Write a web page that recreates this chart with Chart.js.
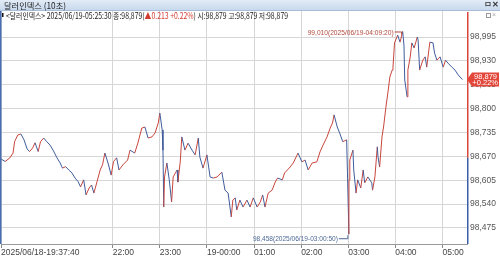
<!DOCTYPE html>
<html>
<head>
<meta charset="utf-8">
<script src="https://cdn.jsdelivr.net/npm/chart.js@4.4.1/dist/chart.umd.min.js"></script>
<style>
  html, body { margin: 0; padding: 0; background: #fff; }
  #wrap { width: 500px; height: 257px; }
</style>
</head>
<body>
<div id="wrap"><canvas id="c" width="500" height="257"></canvas></div>
<script>
// 달러인덱스 10초 - 시간(18일 19시 이후는 전일) / 가격
const times = [
  '19:37:40','19:43','19:49','19:53','19:55','19:59','20:03','20:07','20:11','20:14',
  '20:18','20:21','20:25','20:28','20:32','20:36','20:40','20:44','20:49','20:53',
  '20:56','21:00','21:04','21:08','21:12','21:16','21:19','21:23','21:26','21:30',
  '21:33','21:36','21:40','21:44','21:47','21:50','21:54','21:58','22:01','22:05',
  '22:08','22:13','22:19','22:22','22:28','22:32','22:37','22:41','22:45','22:50',
  '22:54','22:58','23:00','23:03','23:04','23:05','23:06','23:09','23:12','23:15',
  '23:17','23:22','23:23','23:26','23:28','23:32','23:36','23:41','23:45','23:49',
  '23:51','23:55','00:00','00:04','00:08','00:13','00:19','00:23','00:27','00:31',
  '00:33','00:36','00:38','00:42','00:46','00:51','00:55','00:59','01:04','01:08',
  '01:11','01:14','01:18','01:23','01:27','01:30','01:36','01:39','01:46','01:50',
  '01:56','02:01','02:05','02:09','02:14','02:20','02:24','02:28','02:33','02:37',
  '02:40','02:42','02:46','02:49','02:53','02:58','02:59','03:00:50','03:01','03:02',
  '03:06','03:07','03:10','03:12','03:16','03:19','03:21','03:25','03:30','03:31',
  '03:34','03:37','03:38','03:40','03:43','03:45','03:48','03:51','03:53','03:56',
  '03:57','03:59','04:02','04:03','04:06','04:09:20','04:11','04:12','04:15','04:16',
  '04:19','04:21','04:24','04:28','04:29','04:31','04:35','04:38','04:40','04:44',
  '04:48','04:50','04:53','04:57','05:01','05:04','05:07','05:12','05:16','05:20',
  '05:25:30'
];
const prices = [
  98.663,98.656,98.666,98.679,98.710,98.728,98.731,98.715,98.690,98.683,
  98.693,98.707,98.683,98.710,98.720,98.710,98.701,98.687,98.666,98.652,
  98.638,98.642,98.633,98.625,98.611,98.601,98.587,98.606,98.565,98.584,
  98.592,98.570,98.601,98.633,98.647,98.679,98.652,98.619,98.656,98.666,
  98.633,98.647,98.660,98.687,98.679,98.706,98.747,98.750,98.720,98.723,
  98.734,98.761,98.788,98.742,98.687,98.532,98.614,98.652,98.606,98.546,
  98.614,98.633,98.600,98.655,98.723,98.687,98.706,98.687,98.674,98.720,
  98.668,98.638,98.674,98.614,98.611,98.614,98.627,98.578,98.570,98.505,
  98.551,98.557,98.524,98.551,98.532,98.551,98.532,98.557,98.532,98.546,
  98.565,98.532,98.570,98.578,98.600,98.611,98.606,98.625,98.641,98.652,
  98.679,98.655,98.660,98.633,98.652,98.655,98.682,98.701,98.723,98.747,
  98.761,98.783,98.750,98.734,98.710,98.715,98.627,98.458,98.606,98.660,
  98.687,98.633,98.570,98.606,98.584,98.633,98.598,98.614,98.598,98.578,
  98.614,98.696,98.668,98.641,98.723,98.750,98.804,98.851,98.886,98.905,
  98.913,98.979,98.995,99.000,98.981,99.010,98.973,98.878,98.832,98.905,
  98.941,98.979,98.965,98.995,98.987,98.905,98.932,98.941,98.913,98.981,
  98.979,98.951,98.932,98.941,98.913,98.932,98.924,98.913,98.905,98.892,
  98.879
];
const prevClose = 98.666;

const yTicks = [98.475, 98.540, 98.605, 98.670, 98.735, 98.800, 98.865, 98.930, 98.995];
const xTickTimes = ['19:37:40','22:00','23:00','00:00','01:00','02:00','03:00','04:00','05:00'];
const xTickLabels = ['2025/06/18-19:37:40','22:00','23:00','19-00:00','01:00','02:00','03:00','04:00','05:00'];

const UP = '#c8463c', DOWN = '#3f5c9c';
const NUM_FONT = "'Liberation Sans Narrow', 'Liberation Sans', Arial, sans-serif";
const KR_FONT = "'Noto Sans CJK KR', 'Noto Sans', sans-serif";

// 자정 기준 분(전일 저녁은 음수)
function toMin(s) {
  const p = s.split(':').map(Number);
  let h = p[0];
  if (h >= 12) h -= 24;
  return h * 60 + p[1] + (p[2] || 0) / 60;
}
const fmt = v => v.toFixed(3).replace('.', ',');

const points = times.map((t, i) => ({ x: toMin(t), y: prices[i] }));
const xTickVals = xTickTimes.map(toMin);

// 가로로 압축해서 텍스트 그리기 (왼쪽 정렬)
function squeezeText(c, parts, x, y, width) {
  let total = 0;
  parts.forEach(p => { total += c.measureText(p[0]).width; });
  const k = Math.min(1, width / total);
  c.save();
  c.textAlign = 'left';
  c.translate(x, y);
  c.scale(k, 1);
  let cx = 0;
  parts.forEach(p => {
    c.fillStyle = p[1];
    c.fillText(p[0], cx, 0);
    cx += c.measureText(p[0]).width;
  });
  c.restore();
}

const decor = {
  id: 'decor',
  beforeDraw(chart) {
    const c = chart.ctx;
    c.save();
    c.fillStyle = '#fff';
    c.fillRect(0, 0, chart.width, chart.height);
    // 타이틀 바
    const g = c.createLinearGradient(0, 0, 0, 10);
    g.addColorStop(0, '#e3ecf7');
    g.addColorStop(1, '#c8d9ed');
    c.fillStyle = g;
    c.fillRect(0, 0, chart.width, 10);
    c.fillStyle = '#a9bdd6';
    c.fillRect(0, 10, chart.width, 1);
    c.font = '8.5px ' + KR_FONT;
    c.textBaseline = 'middle';
    squeezeText(c, [['달러인덱스 (10초)', '#222']], 4, 5.5, 62);
    // 창 아이콘
    c.fillStyle = '#333';
    c.font = 'bold 8px ' + NUM_FONT;
    c.fillText('ㅁ', 484, 5);
    c.fillText('✕', 492, 5);
    c.restore();
  },
  afterDraw(chart) {
    const c = chart.ctx;
    const xs = chart.scales.x, ys = chart.scales.y;
    const area = chart.chartArea;
    c.save();
    // 왼쪽 파란 테두리
    c.fillStyle = '#4a6fb0';
    c.fillRect(0, area.top, 1.5, area.bottom - area.top);
    // 오른쪽 축선 (전일종가 기준 빨강/파랑)
    const pc = ys.getPixelForValue(prevClose);
    c.fillStyle = '#d9463b';
    c.fillRect(area.right, area.top + 1, 1.5, pc - area.top - 1);
    c.fillStyle = '#3b5ea6';
    c.fillRect(area.right, pc, 1.5, area.bottom - pc);

    // 정보 라인
    c.font = '8.5px ' + KR_FONT;
    c.textBaseline = 'middle';
    c.fillStyle = '#111';
    c.fillRect(2, 13, 1.5, 4);
    const last = prices[prices.length - 1];
    squeezeText(c, [
      ['<달러인덱스> 2025/06/19-05:25:30 종:' + fmt(last) + '(', '#222'],
      ['▲0.213 +0.22%', '#d23c30'],
      [') 시:' + fmt(last) + ' 고:' + fmt(last) + ' 저:' + fmt(last), '#222']
    ], 6, 15.5, 282);

    // 우측 상단 작은 버튼
    c.strokeStyle = '#999';
    c.lineWidth = 1;
    c.strokeRect(486.5, 13.5, 4, 4);
    c.fillStyle = '#aaa';
    c.font = '7px ' + NUM_FONT;
    c.fillText('×', 492, 15.5);

    // 최고가 / 최저가 표시
    let hi = 0, lo = 0;
    prices.forEach((p, i) => { if (p > prices[hi]) hi = i; if (p < prices[lo]) lo = i; });
    c.font = '8px ' + NUM_FONT;

    const hx = xs.getPixelForValue(points[hi].x), hy = ys.getPixelForValue(prices[hi]);
    squeezeText(c, [[fmt(prices[hi]) + '(2025/06/19-' + times[hi] + ')', '#b4493e']], hx - 95, hy + 1, 86);
    c.strokeStyle = '#b4493e';
    c.beginPath();
    c.moveTo(hx - 8, hy + 0.5); c.lineTo(hx - 1, hy + 0.5); c.lineTo(hx - 1, hy + 3);
    c.stroke();

    const lx = xs.getPixelForValue(points[lo].x), ly = ys.getPixelForValue(prices[lo]);
    squeezeText(c, [[fmt(prices[lo]) + '(2025/06/19-' + times[lo] + ')', '#4d6897']], lx - 96, ly + 4.5, 85);
    c.strokeStyle = '#4d6897';
    c.beginPath();
    c.moveTo(lx - 10, ly + 4.5); c.lineTo(lx - 1, ly + 4.5); c.lineTo(lx - 1, ly + 1);
    c.stroke();

    // 현재가 태그
    const tx = area.right + 1, ty = ys.getPixelForValue(last);
    c.fillStyle = '#e2473a';
    c.beginPath();
    c.moveTo(tx - 1, ty);
    c.lineTo(tx + 4, ty - 7);
    c.lineTo(tx + 31, ty - 7);
    c.lineTo(tx + 31, ty + 7);
    c.lineTo(tx + 4, ty + 7);
    c.closePath();
    c.fill();
    c.fillStyle = '#fff';
    c.textAlign = 'right';
    c.font = '7.5px ' + NUM_FONT;
    c.fillText(fmt(last), tx + 29, ty - 2.5);
    c.fillText('+0.22%', tx + 30, ty + 3.5);
    c.restore();
  }
};

new Chart(document.getElementById('c'), {
  type: 'line',
  data: {
    datasets: [{
      data: points,
      borderWidth: 1,
      pointRadius: 0,
      tension: 0,
      segment: {
        borderColor: ctx => ctx.p1.parsed.y >= ctx.p0.parsed.y ? UP : DOWN
      }
    }]
  },
  options: {
    responsive: false,
    animation: false,
    events: [],
    layout: { padding: { top: 11, left: 1, right: 0, bottom: 0 } },
    plugins: { legend: { display: false }, tooltip: { enabled: false } },
    scales: {
      x: {
        type: 'linear',
        min: toMin('19:37:40'),
        max: 331.3,
        afterFit: s => { s.height = 13; },
        afterBuildTicks: s => { s.ticks = xTickVals.map(v => ({ value: v })); },
        grid: {
          color: '#d6d6d6', borderDash: [1, 2], tickLength: 4,
          tickColor: '#888', tickBorderDash: [], tickWidth: 1
        },
        border: { display: true, color: '#9a9a9a', width: 1 },
        ticks: {
          autoSkip: false, maxRotation: 0, align: 'start', padding: 0,
          color: '#444', font: { family: NUM_FONT, size: 8.5 },
          callback: (v, i) => xTickLabels[i]
        }
      },
      y: {
        position: 'right',
        min: 98.4314,
        max: 99.0658,
        afterFit: s => { s.width = 33; },
        afterBuildTicks: s => { s.ticks = yTicks.map(v => ({ value: v })); },
        grid: { color: '#d6d6d6', borderDash: [1, 2], drawTicks: false },
        border: { display: false },
        ticks: {
          padding: 3, color: '#555',
          font: { family: NUM_FONT, size: 8.5 },
          callback: v => fmt(v)
        }
      }
    }
  },
  plugins: [decor]
});
</script>
</body>
</html>
